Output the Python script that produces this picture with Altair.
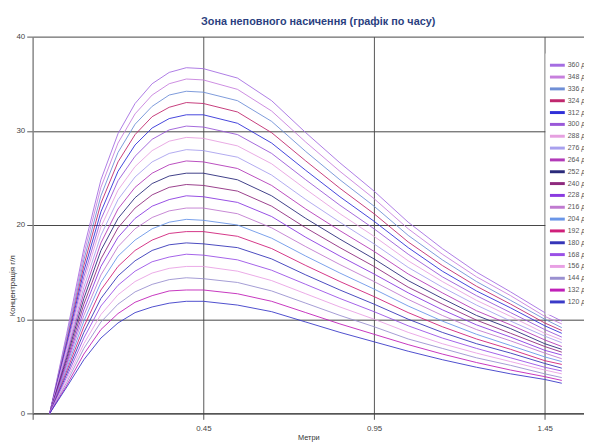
import altair as alt
import pandas as pd

# x positions (metres)
X = [0, 0.05, 0.1, 0.15, 0.2, 0.25, 0.3, 0.35, 0.4, 0.45, 0.55, 0.65, 0.75, 0.85, 0.95, 1.05, 1.15, 1.25, 1.35, 1.45, 1.5]

days = [360, 348, 336, 324, 312, 300, 288, 276, 264, 252, 240, 228, 216, 204, 192, 180, 168, 156, 144, 132, 120]

c360 = [0, 8.5, 17.5, 24.8, 29.7, 32.9, 35.0, 36.2, 36.7, 36.6, 35.6, 33.2, 29.8, 26.6, 23.6, 20.3, 17.5, 15.0, 12.9, 10.7, 9.8]
c348 = [0, 8.2, 16.9, 24.0, 28.7, 31.8, 33.8, 35.0, 35.5, 35.4, 34.4, 32.1, 28.8, 25.7, 22.8, 19.6, 16.9, 14.5, 12.5, 10.3, 9.5]
c336 = [0, 7.9, 16.3, 23.1, 27.7, 30.7, 32.6, 33.8, 34.2, 34.1, 33.2, 31.0, 27.8, 24.8, 22.0, 18.9, 16.3, 14.0, 12.0, 10.0, 9.1]
c324 = [0, 7.6, 15.7, 22.3, 26.7, 29.6, 31.5, 32.5, 33.0, 32.9, 32.0, 29.8, 26.8, 23.9, 21.2, 18.2, 15.7, 13.5, 11.6, 9.6, 8.8]
c312 = [0, 7.4, 15.1, 21.4, 25.7, 28.5, 30.3, 31.3, 31.7, 31.7, 30.8, 28.7, 25.8, 23.0, 20.4, 17.6, 15.1, 13.0, 11.2, 9.3, 8.5]
c300 = [0, 7.1, 14.5, 20.6, 24.7, 27.3, 29.1, 30.1, 30.5, 30.4, 29.6, 27.6, 24.8, 22.1, 19.6, 16.9, 14.5, 12.5, 10.7, 8.9, 8.1]
c288 = [0, 6.8, 14.0, 19.8, 23.7, 26.2, 27.9, 28.9, 29.3, 29.2, 28.4, 26.5, 23.8, 21.2, 18.8, 16.2, 14.0, 12.0, 10.3, 8.5, 7.8]
c276 = [0, 6.5, 13.4, 18.9, 22.7, 25.1, 26.7, 27.6, 28.0, 27.9, 27.2, 25.3, 22.7, 20.3, 18.0, 15.5, 13.4, 11.5, 9.8, 8.2, 7.5]
c264 = [0, 6.2, 12.8, 18.1, 21.7, 24.0, 25.5, 26.4, 26.8, 26.7, 26.0, 24.2, 21.7, 19.4, 17.2, 14.8, 12.8, 10.9, 9.4, 7.8, 7.1]
c252 = [0, 5.9, 12.2, 17.3, 20.7, 22.9, 24.4, 25.2, 25.5, 25.5, 24.8, 23.1, 20.7, 18.5, 16.4, 14.1, 12.2, 10.4, 9.0, 7.4, 6.8]
c240 = [0, 5.6, 11.6, 16.4, 19.7, 21.8, 23.2, 24.0, 24.3, 24.2, 23.6, 22.0, 19.7, 17.6, 15.6, 13.4, 11.6, 9.9, 8.5, 7.1, 6.5]
c228 = [0, 5.3, 11.0, 15.6, 18.7, 20.7, 22.0, 22.7, 23.1, 23.0, 22.4, 20.9, 18.7, 16.7, 14.8, 12.8, 11.0, 9.4, 8.1, 6.7, 6.2]
c216 = [0, 5.1, 10.4, 14.7, 17.7, 19.6, 20.8, 21.5, 21.8, 21.8, 21.2, 19.7, 17.7, 15.8, 14.0, 12.1, 10.4, 8.9, 7.7, 6.4, 5.8]
c204 = [0, 4.8, 9.8, 13.9, 16.7, 18.4, 19.6, 20.3, 20.6, 20.5, 20.0, 18.6, 16.7, 14.9, 13.2, 11.4, 9.8, 8.4, 7.2, 6.0, 5.5]
c192 = [0, 4.5, 9.2, 13.1, 15.6, 17.3, 18.4, 19.1, 19.3, 19.3, 18.8, 17.5, 15.7, 14.0, 12.4, 10.7, 9.2, 7.9, 6.8, 5.6, 5.2]
c180 = [0, 4.2, 8.6, 12.2, 14.6, 16.2, 17.3, 17.9, 18.1, 18.0, 17.6, 16.4, 14.7, 13.1, 11.6, 10.0, 8.6, 7.4, 6.4, 5.3, 4.8]
c168 = [0, 3.9, 8.0, 11.4, 13.6, 15.1, 16.1, 16.6, 16.9, 16.8, 16.3, 15.2, 13.7, 12.2, 10.8, 9.3, 8.0, 6.9, 5.9, 4.9, 4.5]
c156 = [0, 3.6, 7.4, 10.5, 12.6, 14.0, 14.9, 15.4, 15.6, 15.6, 15.1, 14.1, 12.7, 11.3, 10.0, 8.6, 7.4, 6.4, 5.5, 4.6, 4.2]
c144 = [0, 3.3, 6.9, 9.7, 11.6, 12.9, 13.7, 14.2, 14.4, 14.3, 13.9, 13.0, 11.7, 10.4, 9.2, 7.9, 6.9, 5.9, 5.1, 4.2, 3.8]
c132 = [0, 3.0, 6.3, 8.9, 10.6, 11.8, 12.5, 13.0, 13.1, 13.1, 12.7, 11.9, 10.7, 9.5, 8.4, 7.3, 6.3, 5.4, 4.6, 3.9, 3.5]
c120 = [0, 2.8, 5.7, 8.0, 9.6, 10.7, 11.3, 11.7, 11.9, 11.9, 11.5, 10.8, 9.7, 8.6, 7.6, 6.6, 5.7, 4.9, 4.2, 3.6, 3.2]

series = [c360, c348, c336, c324, c312, c300, c288, c276, c264, c252, c240,
          c228, c216, c204, c192, c180, c168, c156, c144, c132, c120]

colors = ["#a56de2", "#c77fdd", "#6f8fd6", "#c0286e", "#2f2fd8", "#9a58d8", "#e6a0e0",
          "#a8a0ee", "#b23ab8", "#2a2a7a", "#8e2a7e", "#8a3ae0", "#c07ad0", "#6a96e8",
          "#d0207a", "#3535b8", "#9a50e6", "#e8a0e4", "#9a90d0", "#c020b8", "#3a3ac8"]

labels = [f"{d} діб" for d in days]

rows = []
for lab, vals in zip(labels, series):
    for xv, yv in zip(X, vals):
        rows.append({"x": xv, "y": yv, "series": lab})
df = pd.DataFrame(rows)

FONT = "Liberation Sans Narrow, Liberation Sans, Arial"

chart = alt.Chart(df).mark_line(strokeWidth=1, opacity=0.9).encode(
    x=alt.X("x:Q",
            scale=alt.Scale(domain=[-0.05, 1.565], nice=False, zero=False),
            axis=alt.Axis(values=[-0.05, 0.45, 0.95, 1.45],
                          labelExpr="datum.value < 0 ? '' : format(datum.value, '.2f')",
                          title="Метри", grid=True, gridColor="#555", gridWidth=1,
                          tickSize=6, tickColor="#555", domainColor="#333",
                          labelFontSize=8, labelColor="#444", labelFont=FONT,
                          labelPadding=5, titleFont=FONT, titleFontSize=7.5,
                          titleFontWeight="normal", titleColor="#333", titlePadding=1)),
    y=alt.Y("y:Q",
            scale=alt.Scale(domain=[0, 40], nice=False),
            axis=alt.Axis(values=[0, 10, 20, 30, 40], title="Концентрація г/л",
                          grid=True, gridColor="#444", gridWidth=1,
                          tickSize=6, tickColor="#555", domainColor="#999",
                          labelFontSize=8, labelColor="#444", labelFont=FONT,
                          labelPadding=2, titleFont=FONT, titleFontSize=8,
                          titleFontWeight="normal", titleColor="#333",
                          titleX=-20, titleY=252, titleAngle=270,
                          titleAlign="center", titleBaseline="middle")),
    color=alt.Color("series:N", title=None,
                    scale=alt.Scale(domain=labels, range=colors),
                    legend=alt.Legend(orient="none", legendX=520, legendY=17,
                                      fillColor="white", padding=7,
                                      symbolType="M-2.15,0H2.15", symbolSize=49,
                                      symbolStrokeWidth=3, symbolOpacity=1,
                                      labelFontSize=7, labelColor="#555",
                                      labelFont=FONT, labelOffset=5.5,
                                      rowPadding=0)),
).properties(
    width=559, height=382,
    title=alt.TitleParams("Зона неповного насичення (графік по часу)",
                          fontSize=11, fontWeight="bold", color="#2b3f80",
                          font=FONT, anchor="middle", dx=10, offset=6),
    autosize=alt.AutoSizeParams(type="none"),
    padding={"left": 25, "top": 26, "right": 0, "bottom": 27},
).configure_view(stroke=None)

chart.save("out.html", embed_options={"renderer": "svg", "actions": False})
